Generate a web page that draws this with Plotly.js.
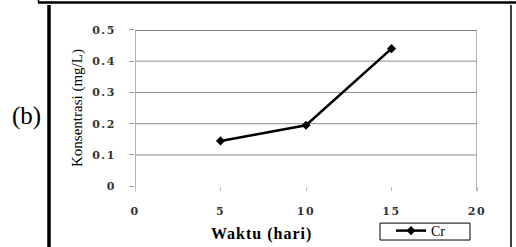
<!DOCTYPE html>
<html>
<head>
<meta charset="utf-8">
<script src="https://cdn.plot.ly/plotly-3.0.1.min.js"></script>
<style>
html,body{margin:0;padding:0;background:#fff;}
#chart{width:516px;height:247px;}
.xtick text,.ytick text{letter-spacing:1.5px;}
.annotation[data-index="1"] text{letter-spacing:1px;}
</style>
</head>
<body>
<div id="chart"></div>
<script>
// Data
var waktu = [5, 10, 15];
var crValues = [0.145, 0.195, 0.44];
var seriesName = 'Cr';
var xTicks = [0, 5, 10, 15, 20];
var yTicks = [0, 0.1, 0.2, 0.3, 0.4, 0.5];
var yGrid = [0.1, 0.2, 0.3, 0.4];

var W = 516, H = 247;
// plot area in pixels
var L = 135, R = 477, T = 30, B = 187;
function px(x){ return x / W; }
function py(y){ return (H - y) / H; }

var SERIF = '"Liberation Serif", "Times New Roman", serif';
var SERIF2 = '"DejaVu Serif", "Liberation Serif", serif';

var shapes = [];
yGrid.forEach(function(v){
  shapes.push({type:'line', xref:'paper', yref:'y', x0:px(L), x1:px(R), y0:v, y1:v,
    line:{color:'#8c8c8c', width:1}, layer:'below'});
});
// top border of plot area (black)
shapes.push({type:'line', xref:'paper', yref:'y', x0:px(L), x1:px(R), y0:0.5, y1:0.5, line:{color:'#000', width:1.2}, layer:'below'});
// right border of plot area (gray)
shapes.push({type:'line', xref:'x', yref:'paper', x0:20, x1:20, y0:py(192), y1:py(T), line:{color:'#999', width:1.5}, layer:'below'});
// left y axis line (gray), extends slightly below 0
shapes.push({type:'line', xref:'x', yref:'paper', x0:0, x1:0, y0:py(192), y1:py(T), line:{color:'#999', width:1.5}, layer:'below'});
// outer frame
shapes.push({type:'line', xref:'paper', yref:'paper', x0:px(49), x1:px(49), y0:py(5), y1:py(248), line:{color:'#000', width:3.5}});
shapes.push({type:'line', xref:'paper', yref:'paper', x0:px(511), x1:px(511), y0:py(5), y1:py(248), line:{color:'#000', width:1.5}});
shapes.push({type:'line', xref:'paper', yref:'paper', x0:px(38), x1:px(517), y0:py(2.5), y1:py(2.5), line:{color:'#000', width:2.5}});
shapes.push({type:'line', xref:'paper', yref:'paper', x0:px(38.5), x1:px(38.5), y0:py(-1), y1:py(3), line:{color:'#000', width:1.5}});
// legend box
shapes.push({type:'rect', xref:'paper', yref:'paper', x0:px(380), x1:px(470), y0:py(241), y1:py(224), line:{color:'#000', width:1}, fillcolor:'rgba(0,0,0,0)'});

var trace = {
  x: waktu, y: crValues, name: seriesName, type:'scatter', mode:'lines+markers',
  line:{color:'#000', width:2.5},
  marker:{symbol:'diamond', size:7, color:'#000'},
  showlegend:true
};

var layout = {
  width: W, height: H,
  margin:{l:0, r:0, t:0, b:0, pad:0},
  paper_bgcolor:'#fff', plot_bgcolor:'rgba(0,0,0,0)',
  showlegend:true,
  font:{family:SERIF, color:'#000'},
  xaxis:{
    domain:[px(L), px(R)],
    range:[0,20], tickvals:xTicks, ticktext:xTicks.map(String),
    showgrid:false, zeroline:false, showline:false,
    ticks:'outside', ticklen:4, tickwidth:1, tickcolor:'#bbb',
    ticklabelstandoff:11,
    tickfont:{family:SERIF2, size:11, color:'#333', weight:'bold'},
    fixedrange:true
  },
  yaxis:{
    domain:[py(B), py(T)],
    range:[0,0.5], tickvals:yTicks, ticktext:yTicks.map(String),
    showgrid:false, zeroline:false, showline:false,
    ticks:'outside', ticklen:5, tickwidth:1, tickcolor:'#999',
    ticklabelstandoff:11,
    tickfont:{family:SERIF2, size:11, color:'#333', weight:'bold'},
    title:{text:'Konsentrasi (mg/L)', font:{family:SERIF, size:15, color:'#000'}, standoff:5},
    fixedrange:true
  },
  legend:{
    x:px(391), y:py(232), xanchor:'left', yanchor:'middle',
    borderwidth:0, bgcolor:'rgba(0,0,0,0)',
    font:{family:SERIF, size:14, color:'#000'},
    itemwidth:30, tracegroupgap:0
  },
  shapes: shapes,
  annotations:[
    {text:'(b)', xref:'paper', yref:'paper', x:px(26), y:py(116), showarrow:false,
     font:{family:SERIF, size:25, color:'#000'}, xanchor:'center', yanchor:'middle'},
    {text:'<b>Waktu (hari)</b>', xref:'paper', yref:'paper', x:px(261), y:py(235), showarrow:false,
     font:{family:SERIF, size:16, color:'#000'}, xanchor:'center', yanchor:'middle'}
  ]
};

Plotly.newPlot('chart', [trace], layout, {displayModeBar:false, staticPlot:true});
</script>
</body>
</html>
